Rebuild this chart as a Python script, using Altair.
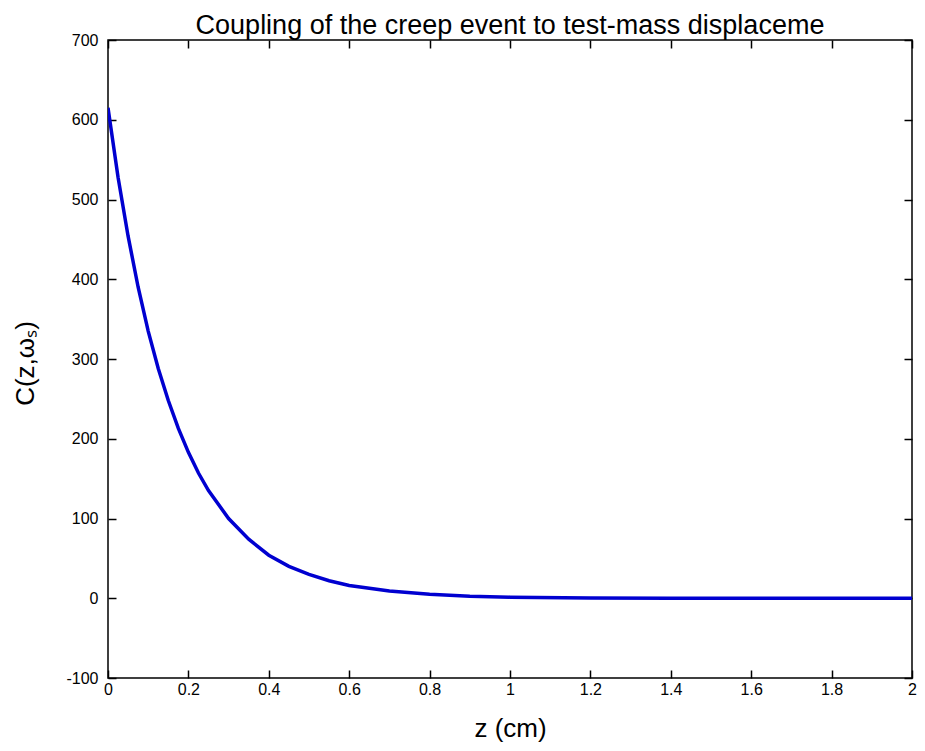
import altair as alt
import pandas as pd

# values
z_cm = [0, 0.025, 0.05, 0.075, 0.1, 0.125, 0.15, 0.175, 0.2, 0.225, 0.25,
        0.3, 0.35, 0.4, 0.45, 0.5, 0.55, 0.6, 0.7, 0.8, 0.9, 1.0,
        1.2, 1.4, 1.6, 1.8, 2.0]
coupling = [615, 528, 454, 390, 335, 288, 248, 213, 183, 157, 135,
            100, 74, 54, 40, 30, 22, 16, 9, 5, 2.6, 1.4,
            0.4, 0.1, 0.03, 0.01, 0]
x_ticks = [0, 0.2, 0.4, 0.6, 0.8, 1, 1.2, 1.4, 1.6, 1.8, 2]
y_ticks = [-100, 0, 100, 200, 300, 400, 500, 600, 700]

title_text = "Coupling of the creep event to test-mass displaceme"
x_title = "z (cm)"
y_title = "C(z,\u03c9\u209b)"

df = pd.DataFrame({"z": z_cm, "C": coupling})
title_df = pd.DataFrame({"t": [title_text]})

FONT = "Liberation Sans"
W, H = 804, 638
x_scale = alt.Scale(domain=[0, 2], nice=False, zero=False)
y_scale = alt.Scale(domain=[-100, 700], nice=False, zero=False)

line = alt.Chart(df).mark_line(color="#0000D0", strokeWidth=3.5, clip=True).encode(
    x=alt.X("z:Q", scale=x_scale,
            axis=alt.Axis(orient="bottom", values=x_ticks, title=x_title,
                          domain=False, tickSize=8, offset=-8, labelPadding=3,
                          labelFlush=False,
                          labelExpr="'' + datum.value",
                          titleX=W / 2, titleY=66, titleBaseline="alphabetic",
                          titleFontSize=26)),
    y=alt.Y("C:Q", scale=y_scale,
            axis=alt.Axis(orient="left", values=y_ticks, title=y_title,
                          domain=False, tickSize=8, offset=-8, labelPadding=10,
                          labelFlush=False,
                          labelExpr="'' + datum.value",
                          titleX=-83, titleY=H / 2 + 4, titleAngle=270,
                          titleBaseline="alphabetic", titleAlign="center",
                          titleFontSize=26)),
)

frame = alt.Chart(df).mark_line(opacity=0).encode(
    x=alt.X("z:Q", scale=x_scale,
            axis=alt.Axis(orient="top", values=x_ticks, title="", labels=False,
                          domain=False, tickSize=8, offset=-8)),
    y=alt.Y("C:Q", scale=y_scale,
            axis=alt.Axis(orient="right", values=y_ticks, title="", labels=False,
                          domain=False, tickSize=8, offset=-8)),
)

title = alt.Chart(title_df).mark_text(
    font=FONT, fontSize=27, color="black", align="center", baseline="alphabetic"
).encode(text="t:N", x=alt.value(W / 2), y=alt.value(-6))

chart = alt.layer(line, frame, title).resolve_axis(
    x="independent", y="independent"
).properties(
    width=W, height=H,
    autosize=alt.AutoSizeParams(type="none"),
    padding={"left": 100, "top": 32, "right": 5, "bottom": 64},
    background="white",
).configure_view(
    stroke="black", strokeWidth=1.5
).configure_axis(
    grid=False, tickColor="black", tickWidth=1.5, labelColor="black",
    labelFont=FONT, labelFontSize=16, titleFont=FONT, titleColor="black",
    titleFontWeight="normal"
)

chart.save("out.html", embed_options={"renderer": "svg", "actions": False})
